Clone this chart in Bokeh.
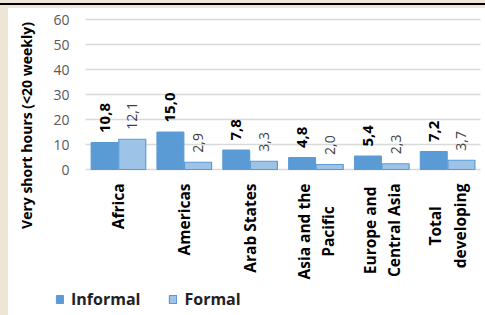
from math import pi
from bokeh.plotting import figure
from bokeh.models import ColumnDataSource, GlobalInlineStyleSheet, Range1d
from bokeh.core.properties import value
from bokeh.embed import file_html
from bokeh.resources import INLINE

categories = ["Africa", "Americas", "Arab States", "Asia and the Pacific",
              "Europe and Central Asia", "Total developing"]
cat_labels = ["Africa", "Americas", "Arab States", "Asia and the\nPacific",
              "Europe and\nCentral Asia", "Total\ndeveloping"]
informal = [10.8, 15.0, 7.8, 4.8, 5.4, 7.2]
formal = [12.1, 2.9, 3.3, 2.0, 2.3, 3.7]
y_ticks = [0, 10, 20, 30, 40, 50, 60]
y_title = "Very short hours (<20 weekly)"

FONT = "Open Sans"
PX_PER_CAT = 395 / len(categories)   # horizontal scale, px per category
PX_PER_UNIT = 2.5                    # vertical scale, px per value unit
W, H = 477, 307
LEFT, ZERO_Y = 77, 161               # plot origin inside the figure (px)


def fmt(v):
    return f"{v:.1f}".replace(".", ",")


def px_x(px):   # horizontal px offset -> data units
    return px / PX_PER_CAT


def px_y(px):   # vertical px offset -> data units
    return px / PX_PER_UNIT


n = len(categories)
centers = [i + 0.5 for i in range(n)]
half_gap = 0.21

src = ColumnDataSource(dict(
    cat=categories,
    xc=centers,
    x_inf=[c - half_gap for c in centers],
    x_for=[c + half_gap for c in centers],
    cat_label=cat_labels,
    informal=informal,
    formal=formal,
    informal_txt=[fmt(v) for v in informal],
    formal_txt=[fmt(v) for v in formal],
    informal_lab_y=[v + px_y(9.5) for v in informal],
    formal_lab_y=[v + px_y(9.5) for v in formal],
    cat_lab_y=[-px_y(14)] * n,
))

tick_src = ColumnDataSource(dict(
    y=y_ticks,
    txt=[str(t) for t in y_ticks],
    x0=[0] * len(y_ticks),
    x1=[n] * len(y_ticks),
    xl=[-px_x(16)] * len(y_ticks),
))

p = figure(width=W, height=H, output_backend="svg", toolbar_location=None,
           x_range=Range1d(-px_x(LEFT), px_x(W - LEFT)),
           y_range=Range1d(-px_y(H - ZERO_Y), px_y(ZERO_Y)),
           min_border=0)
p.outline_line_color = None
p.background_fill_color = "white"
p.border_fill_color = "white"
p.xaxis.visible = False
p.yaxis.visible = False
p.xgrid.visible = False
p.ygrid.visible = False

# gridlines and y tick labels
p.segment(x0="x0", x1="x1", y0="y", y1="y", source=tick_src,
          line_color="#d9d9d9", line_width=1.5)
p.text(x="xl", y="y", text="txt", source=tick_src, text_align="right",
       text_baseline="middle", text_font=value(FONT), text_font_size="14px",
       text_color="#595959")

# y axis title
p.text(x=[-px_x(59)], y=[px_y(44)], text=[y_title], angle=pi / 2,
       text_align="center", text_baseline="middle", text_font=value(FONT),
       text_font_size="14px", text_font_style="bold", text_color="black")

# bars
p.vbar(x="x_inf", top="informal", width=0.41, source=src,
       fill_color="#5b9bd5", line_color="#5b9bd5", line_width=1, legend_label="Informal")
p.vbar(x="x_for", top="formal", width=0.41, source=src,
       fill_color="#9dc3e6", line_color="#5b9bd5", line_width=1.2, legend_label="Formal")

# data labels
p.text(x="x_inf", y="informal_lab_y", text="informal_txt",
       source=src, angle=pi / 2, anchor="center_left", text_font=value(FONT),
       text_font_style="bold", text_font_size="15px", text_color="black")
p.text(x="x_for", y="formal_lab_y", text="formal_txt",
       source=src, angle=pi / 2, anchor="center_left", text_font=value(FONT),
       text_font_size="14px", text_color="#404040")

# category labels
p.text(x="xc", y="cat_lab_y", text="cat_label", source=src, angle=pi / 2,
       anchor="center_right", text_align="center", text_line_height=1.1,
       text_font=value(FONT), text_font_style="bold", text_font_size="15.5px",
       text_color="black")

lg = p.legend[0]
lg.location = (47, 5)
lg.orientation = "horizontal"
lg.border_line_color = None
lg.background_fill_alpha = 0
lg.padding = 0
lg.margin = 0
lg.spacing = 28
lg.label_standoff = 7
lg.glyph_width = 9
lg.glyph_height = 10
lg.label_text_font = FONT
lg.label_text_font_style = "bold"
lg.label_text_font_size = "16px"
lg.label_text_color = "#222222"

p.stylesheets = [GlobalInlineStyleSheet(css=(
    "html{overflow:hidden; background: linear-gradient(#000,#000) 0 3px/100% 2px no-repeat,"
    " linear-gradient(#ede6d6,#ede6d6) 0 0/100% 8px no-repeat,"
    " linear-gradient(#ede6d6,#ede6d6) 0 0/8px 100% no-repeat, #fff !important;}"
    " body{background:transparent !important; box-sizing:border-box !important;"
    " margin:0 !important; padding:8px 0 0 8px !important;}"))]

open("out.html", "w").write(file_html(p, INLINE))
